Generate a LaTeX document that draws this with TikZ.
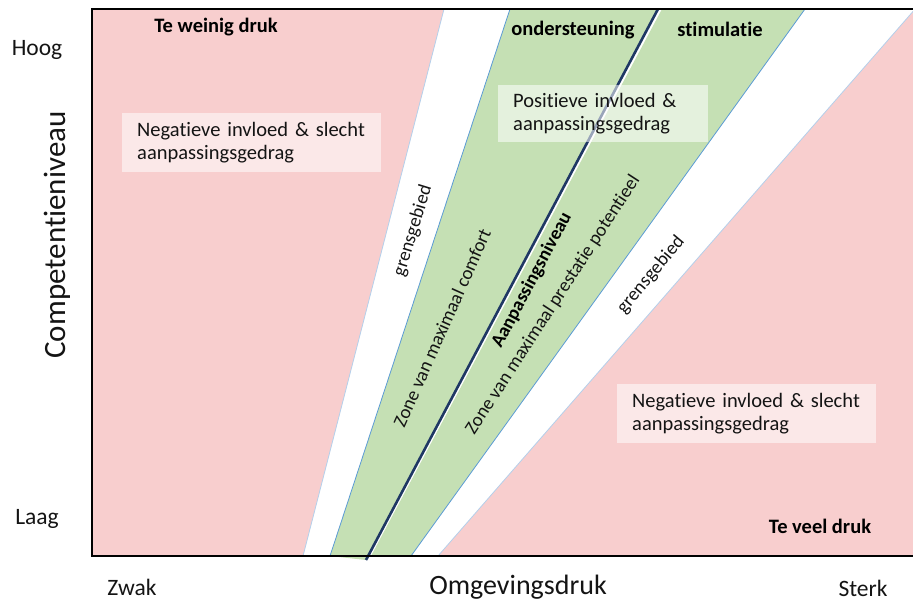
\documentclass[tikz,border=0pt]{standalone}
\usepackage{fontspec}
\setmainfont{Carlito}[Ligatures=NoCommon]
\definecolor{pinkz}{RGB}{248,206,206}
\definecolor{greenz}{RGB}{197,224,180}
\definecolor{edgeb}{RGB}{91,155,213}
\definecolor{edgel}{RGB}{180,208,235}
\definecolor{darkb}{RGB}{31,56,100}
\definecolor{txt}{RGB}{20,20,20}
\begin{document}
\begin{tikzpicture}[x=1pt,y=-1pt,
  lbl/.style={font=\fontsize{19}{23}\selectfont, inner sep=0pt, text=txt},
  boldlbl/.style={font=\fontsize{20.5}{24}\selectfont\bfseries, inner sep=0pt, text=black},
  axislbl/.style={font=\fontsize{23.5}{28}\selectfont, inner sep=0pt, text=txt},
  biglbl/.style={font=\fontsize{28}{32}\selectfont, inner sep=0pt, text=txt},
  infobox/.style={fill=white, fill opacity=0.55, text opacity=1, text=txt, align=left,
    anchor=north west, inner xsep=15pt, inner ysep=0pt,
    font=\fontsize{20.5}{23.5}\selectfont},
  zoneedge/.style={draw=edgeb, line width=0.8pt},
  pinkedge/.style={draw=edgel, line width=0.8pt},
  frameline/.style={draw=black, line width=2pt}]
\useasboundingbox (0,0) rectangle (913,601);
\clip (0,0) rectangle (913,601);
% corner coordinates
\coordinate (pl1) at (444,9);   \coordinate (pl2) at (303,556);
\coordinate (gl1) at (510,9);   \coordinate (gl2) at (330,556);
\coordinate (bl1) at (658,9);   \coordinate (bl2) at (366,560);
\coordinate (gr0) at (662,9);   \coordinate (gr00) at (371,556);
\coordinate (gr1) at (805,9);   \coordinate (gr2) at (411,556);
\coordinate (pr1) at (916,8);   \coordinate (pr2) at (438,556);
% regions
\fill[pinkz] (92,9) -- (pl1) -- (pl2) -- (92,556) -- cycle;
\fill[pinkz] (pr2) -- (pr1) -- (916,556) -- cycle;
\fill[greenz] (gl1) -- (bl1) -- (bl2) -- (gl2) -- cycle;
\fill[greenz] (gr0) -- (gr1) -- (gr2) -- (gr00) -- cycle;
\draw[pinkedge] (pl1) -- (pl2);
\draw[pinkedge] (pr1) -- (pr2);
\draw[zoneedge] (gl1) -- (gl2);
\draw[zoneedge] (gr1) -- (gr2);
\draw[darkb, line width=2.6pt] (bl1) -- (bl2);
% frame
\draw[frameline] (916,9) -- (92,9) -- (92,556) -- (916,556);
% info boxes
\node[infobox, text width=229pt, minimum height=59pt] (lbox) at (122,113)
  {Negatieve invloed \& slecht\\aanpassingsgedrag};
\node[infobox, text width=180pt, minimum height=57pt] (gbox) at (498,85)
  {Positieve invloed \&\\aanpassingsgedrag};
\node[infobox, text width=229pt, minimum height=59pt] (rbox) at (617,384)
  {Negatieve invloed \& slecht\\aanpassingsgedrag};
% bold labels
\node[boldlbl, anchor=base] (weinig) at (216,33) {Te weinig druk};
\node[boldlbl, anchor=base] (onder) at (573,36) {ondersteuning};
\node[boldlbl, anchor=base] (stim) at (720,37) {stimulatie};
\node[boldlbl, anchor=base] (veel) at (820,533) {Te veel druk};
% rotated zone labels
\node[lbl, rotate=73] (grens1) at (413,231) {grensgebied};
\node[lbl, rotate=66] (comfort) at (442,328) {Zone van maximaal comfort};
\node[boldlbl, font=\fontsize{19}{23}\selectfont\bfseries, rotate=62] (aanp) at (532,280) {Aanpassingsniveau};
\node[lbl, rotate=57] (prest) at (553,305) {Zone van maximaal prestatie potentieel};
\node[lbl, rotate=50] (grens2) at (651,275) {grensgebied};
% axes
\node[axislbl] (hoog) at (37,50) {Hoog};
\node[axislbl] (laag) at (37,519) {Laag};
\node[biglbl, font=\fontsize{31}{34}\selectfont, rotate=90] (comp) at (57,235) {Competentieniveau};
\node[axislbl] (zwak) at (132,587) {Zwak};
\node[biglbl] (omg) at (518,587) {Omgevingsdruk};
\node[axislbl] (sterk) at (863,588) {Sterk};
\end{tikzpicture}
\end{document}
